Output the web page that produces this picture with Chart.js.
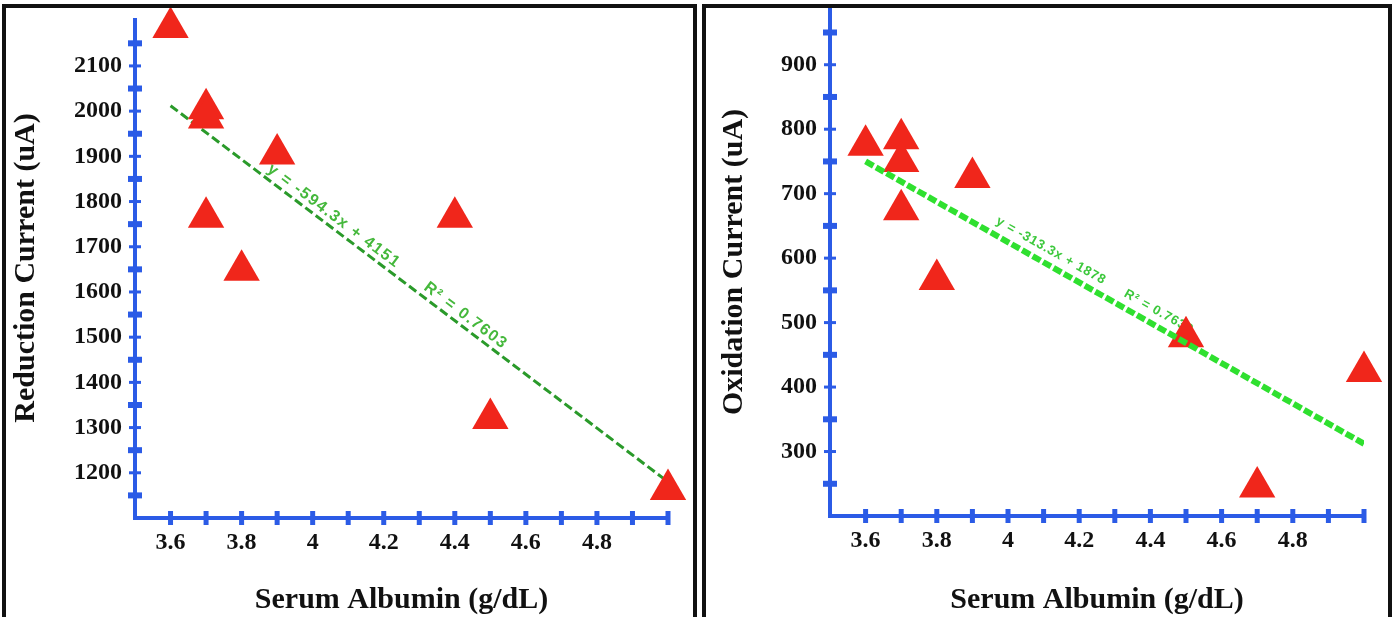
<!DOCTYPE html>
<html>
<head>
<meta charset="utf-8">
<title>Serum Albumin vs Current</title>
<script src="https://cdn.jsdelivr.net/npm/chart.js@4.4.1/dist/chart.umd.min.js"></script>
<style>
  html, body { margin: 0; padding: 0; background: #fff; }
  body { width: 1395px; height: 617px; position: relative; overflow: hidden; }
  .panel {
    position: absolute; top: 4px; height: 660px;
    border: 4px solid #111; box-sizing: border-box;
    pointer-events: none; z-index: 2;
  }
  #boxLeft { left: 2px; width: 695px; }
  #boxRight { left: 702px; width: 690px; }
  canvas { position: absolute; top: 0; }
  #reductionChart { left: 6px; }
  #oxidationChart { left: 706px; }
</style>
</head>
<body>
<div class="panel" id="boxLeft"></div>
<div class="panel" id="boxRight"></div>
<canvas id="reductionChart" width="686" height="617"></canvas>
<canvas id="oxidationChart" width="682" height="617"></canvas>

<script>
// ---- data ----
const albuminRed = [3.6, 3.7, 3.7, 3.7, 3.8, 3.9, 4.4, 4.5, 5.0];
const reductionCurrent = [2185, 2005, 1985, 1765, 1648, 1905, 1765, 1320, 1163];

const albuminOx = [3.6, 3.7, 3.7, 3.7, 3.8, 3.9, 4.5, 4.7, 5.0];
const oxidationCurrent = [775, 785, 750, 675, 567, 725, 478, 245, 424];

// trendline end points (x = 3.6 and x = 5.0)
const trendX = [3.6, 5.0];
const reductionTrendY = [2012, 1180];
const oxidationTrendY = [750, 312];

const xTickLabels = [3.6, 3.8, 4.0, 4.2, 4.4, 4.6, 4.8];
const reductionTickLabels = [1200, 1300, 1400, 1500, 1600, 1700, 1800, 1900, 2000, 2100];
const oxidationTickLabels = [300, 400, 500, 600, 700, 800, 900];

const reductionTrendText = ['y = -594.3x + 4151', 'R\u00b2 = 0.7603'];
const oxidationTrendText = ['y = -313.3x + 1878', 'R\u00b2 = 0.7638'];

// ---- styles ----
const AXIS_BLUE = '#2b5be6';
const TRI_RED = '#f0261b';
const SERIF = "'Liberation Serif', 'Times New Roman', serif";

/* axes with ticks crossing the line, plus the trendline labels */
function makeAxesPlugin(cfg) {
    return {
        id: 'crossAxes',
        beforeDatasetsDraw(chart) {
            const { ctx, chartArea: a, scales: { x, y } } = chart;
            ctx.save();
            ctx.strokeStyle = AXIS_BLUE;
            ctx.lineWidth = 4;
            ctx.beginPath();
            ctx.moveTo(a.left, a.top);
            ctx.lineTo(a.left, a.bottom);
            ctx.lineTo(a.right + 2, a.bottom);
            ctx.stroke();

            x.ticks.forEach(t => {
                if (t.value <= x.min + 1e-6) return;
                const px = x.getPixelForValue(t.value);
                ctx.lineWidth = 5;
                ctx.beginPath();
                ctx.moveTo(px, a.bottom - 7);
                ctx.lineTo(px, a.bottom + 7);
                ctx.stroke();
            });

            y.ticks.forEach(t => {
                if (t.value <= y.min + 1e-6 || t.value > y.max - 25) return;
                const py = y.getPixelForValue(t.value);
                const major = cfg.yLabels.includes(t.value);
                const h = major ? 6 : 7;
                ctx.lineWidth = major ? 3 : 6;
                ctx.beginPath();
                ctx.moveTo(a.left - h, py);
                ctx.lineTo(a.left + h, py);
                ctx.stroke();
            });

            // trendline labels, rotated along the line
            const x0 = x.getPixelForValue(trendX[0]), x1 = x.getPixelForValue(trendX[1]);
            const y0 = y.getPixelForValue(cfg.trendY[0]), y1 = y.getPixelForValue(cfg.trendY[1]);
            const ang = Math.atan2(y1 - y0, x1 - x0);
            ctx.fillStyle = cfg.textColor;
            ctx.font = cfg.textFont;
            ctx.letterSpacing = cfg.textSpacing;
            ctx.textBaseline = 'alphabetic';
            ctx.textAlign = 'left';
            cfg.texts.forEach((txt, i) => {
                const px = x.getPixelForValue(cfg.textAt[i]);
                const py = y0 + (px - x0) * (y1 - y0) / (x1 - x0);
                ctx.save();
                ctx.translate(px, py);
                ctx.rotate(ang);
                ctx.fillText(txt, 0, -cfg.textOffset);
                ctx.restore();
            });
            ctx.restore();
        }
    };
}

function buildChart(id, xs, ys, trendY, yLabels, cfg) {
    const canvas = document.getElementById(id);
    const tickFont = { family: SERIF, size: 24, weight: 'bold' };
    const titleFont = { family: SERIF, size: 30, weight: 'bold', lineHeight: 1.1 };

    return new Chart(canvas, {
        type: 'scatter',
        data: {
            datasets: [
                {
                    data: xs.map((v, i) => ({ x: v, y: ys[i] })),
                    pointStyle: 'triangle',
                    pointRadius: 21,
                    pointHoverRadius: 21,
                    backgroundColor: TRI_RED,
                    borderWidth: 0,
                    clip: false,
                    order: cfg.pointsOrder
                },
                {
                    data: trendX.map((v, i) => ({ x: v, y: trendY[i] })),
                    showLine: true,
                    pointRadius: 0,
                    borderColor: cfg.lineColor,
                    borderWidth: cfg.lineWidth,
                    borderDash: cfg.dash,
                    fill: false,
                    order: cfg.lineOrder
                }
            ]
        },
        options: {
            responsive: false,
            animation: false,
            devicePixelRatio: 1,
            layout: {
                autoPadding: false,
                padding: { top: cfg.top, right: canvas.width - cfg.right, left: 0, bottom: 0 }
            },
            plugins: { legend: { display: false }, tooltip: { enabled: false } },
            scales: {
                x: {
                    type: 'linear', min: 3.5, max: 5.0, bounds: 'data',
                    grid: { display: false, drawTicks: false },
                    border: { display: false },
                    ticks: {
                        stepSize: 0.1, autoSkip: false, maxRotation: 0, minRotation: 0,
                        padding: 10, color: '#111', font: tickFont,
                        callback: v => {
                            const r = Math.round(v * 10) / 10;
                            return xTickLabels.some(l => Math.abs(l - r) < 1e-6) ? String(r) : '';
                        }
                    },
                    title: {
                        display: true, text: 'Serum Albumin (g/dL)', color: '#111',
                        font: titleFont, padding: { top: 0, bottom: 0 }
                    },
                    afterFit: s => { s.height = canvas.height - cfg.bottom; s.paddingLeft = 0; s.paddingRight = 0; }
                },
                y: {
                    type: 'linear', min: cfg.yMin, max: cfg.yMax, bounds: 'data',
                    grid: { display: false, drawTicks: false },
                    border: { display: false },
                    ticks: {
                        stepSize: 50, includeBounds: false, autoSkip: false,
                        padding: 13, color: '#111', font: tickFont,
                        callback: v => yLabels.includes(v) ? String(v) : ''
                    },
                    title: {
                        display: true, text: cfg.yTitle, color: '#111',
                        font: titleFont, padding: { top: cfg.titlePad, bottom: 0 }
                    },
                    afterFit: s => { s.width = cfg.left; s.paddingTop = 0; s.paddingBottom = 0; }
                }
            }
        },
        plugins: [makeAxesPlugin({
            yLabels, trendY,
            texts: cfg.texts, textAt: cfg.textAt, textOffset: cfg.textOffset,
            textFont: cfg.textFont, textSpacing: cfg.textSpacing, textColor: cfg.textColor
        })]
    });
}

buildChart('reductionChart', albuminRed, reductionCurrent, reductionTrendY, reductionTickLabels, {
    left: 129, right: 662, top: 18, bottom: 518,
    yMin: 1100, yMax: 2206,
    yTitle: 'Reduction Current (uA)', titlePad: 4,
    lineColor: '#2a9a2a', lineWidth: 3, dash: [9, 4],
    pointsOrder: 0, lineOrder: 1,
    texts: reductionTrendText, textAt: [3.86, 4.30], textOffset: 6,
    textFont: 'bold 16px "Liberation Sans", Arial, sans-serif', textSpacing: '1.5px', textColor: '#45b83c'
});

buildChart('oxidationChart', albuminOx, oxidationCurrent, oxidationTrendY, oxidationTickLabels, {
    left: 124, right: 658, top: 8, bottom: 516,
    yMin: 200, yMax: 988,
    yTitle: 'Oxidation Current (uA)', titlePad: 12,
    lineColor: '#2fe02f', lineWidth: 6, dash: [9, 3],
    pointsOrder: 1, lineOrder: 0,
    texts: oxidationTrendText, textAt: [3.95, 4.31], textOffset: 10,
    textFont: 'bold 13px "Liberation Sans", Arial, sans-serif', textSpacing: '0.8px', textColor: '#3cc83c'
});
</script>
</body>
</html>
